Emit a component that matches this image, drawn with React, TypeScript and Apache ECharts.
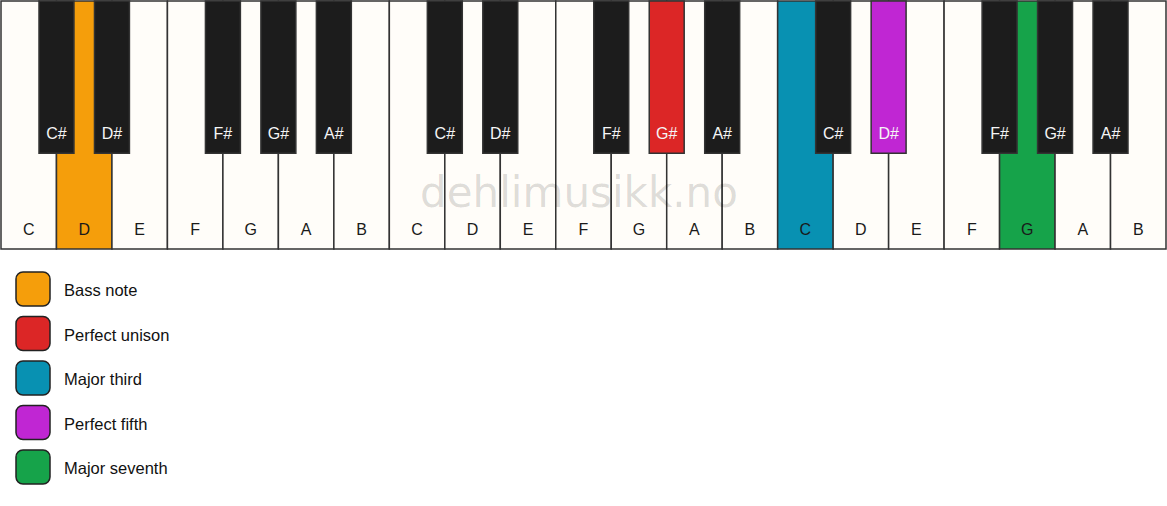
import React, { useEffect, useRef } from 'react'
import * as echarts from 'echarts'

// three octaves of white keys, left to right
const whiteKeys = [
  'C', 'D', 'E', 'F', 'G', 'A', 'B',
  'C', 'D', 'E', 'F', 'G', 'A', 'B',
  'C', 'D', 'E', 'F', 'G', 'A', 'B',
]
const blackKeys = [
  'C#', 'D#', 'F#', 'G#', 'A#',
  'C#', 'D#', 'F#', 'G#', 'A#',
  'C#', 'D#', 'F#', 'G#', 'A#',
]
// white-key boundary each black key sits on
const blackKeyPositions = [1, 2, 4, 5, 6, 8, 9, 11, 12, 13, 15, 16, 18, 19, 20]

const intervals = ['Bass note', 'Perfect unison', 'Major third', 'Perfect fifth', 'Major seventh']
const intervalColors = ['#f59e0b', '#dc2626', '#0891b2', '#c026d3', '#16a34a']

// [key index, interval index]
const highlightedWhite = [[1, 0], [14, 2], [18, 4]]
const highlightedBlack = [[8, 1], [11, 3]]

const BLACK_LENGTH = 0.614 // share of the white key length
const BLACK_WIDTH = 0.63   // share of a white key width
const FONT = '"Liberation Sans", Arial, sans-serif'

const App: React.FC = () => {
  const ref = useRef<HTMLDivElement>(null)

  useEffect(() => {
    if (!ref.current) return
    const chart = echarts.init(ref.current, undefined, { renderer: 'svg' })

    const whiteData = whiteKeys.map((_, i) => {
      const h = highlightedWhite.find(x => x[0] === i)
      return [i, h ? h[1] : -1]
    })
    const blackData = blackKeys.map((_, i) => {
      const h = highlightedBlack.find(x => x[0] === i)
      return [blackKeyPositions[i], h ? h[1] : -1, i]
    })

    chart.setOption({
      animation: false,
      backgroundColor: '#ffffff',
      grid: { left: 1, top: 1, width: 1165, height: 248 },
      xAxis: { type: 'value', min: 0, max: whiteKeys.length, show: false },
      yAxis: { type: 'value', min: 0, max: 1, inverse: true, show: false },
      graphic: [
        ...intervals.map((name, k) => ({
          type: 'group',
          x: 16,
          y: 272 + k * 44.5,
          children: [
            {
              type: 'rect',
              shape: { x: 0, y: 0, width: 34, height: 34, r: 7 },
              style: { fill: intervalColors[k], stroke: '#222', lineWidth: 1.5 },
            },
            {
              type: 'text',
              x: 48,
              y: 18,
              style: { text: name, fill: '#111', fontSize: 16.5, fontFamily: FONT, verticalAlign: 'middle' },
            },
          ],
        })),
        {
          type: 'text',
          x: 579,
          y: 192,
          z: 100,
          silent: true,
          style: {
            text: 'dehlimusikk.no',
            fill: 'rgba(0,0,0,0.14)',
            fontSize: 42,
            fontFamily: '"DejaVu Sans", sans-serif',
            align: 'center',
            verticalAlign: 'middle',
          },
        },
      ],
      series: [
        {
          type: 'custom',
          z: 2,
          data: whiteData,
          renderItem: (_: any, api: any) => {
            const i = api.value(0)
            const c = api.value(1)
            const [x0, y0] = api.coord([i, 0])
            const [x1, y1] = api.coord([i + 1, 1])
            return {
              type: 'group',
              children: [
                {
                  type: 'rect',
                  shape: { x: x0, y: y0, width: x1 - x0, height: y1 - y0 },
                  style: { fill: c >= 0 ? intervalColors[c] : '#fffdf9', stroke: '#333', lineWidth: 1.5 },
                },
                {
                  type: 'text',
                  style: {
                    text: whiteKeys[i], x: (x0 + x1) / 2, y: y1 - 20,
                    align: 'center', verticalAlign: 'middle',
                    fill: '#1a1a1a', fontSize: 16, fontFamily: FONT,
                  },
                },
              ],
            }
          },
        },
        {
          type: 'custom',
          z: 3,
          data: blackData,
          renderItem: (_: any, api: any) => {
            const pos = api.value(0)
            const c = api.value(1)
            const k = api.value(2)
            const [cx, y0] = api.coord([pos, 0])
            const [, y1] = api.coord([pos, BLACK_LENGTH])
            const w = api.size([BLACK_WIDTH, 0])[0]
            return {
              type: 'group',
              children: [
                {
                  type: 'rect',
                  shape: { x: cx - w / 2, y: y0, width: w, height: y1 - y0 },
                  style: { fill: c >= 0 ? intervalColors[c] : '#1c1c1c', stroke: '#333', lineWidth: 1.5 },
                },
                {
                  type: 'text',
                  style: {
                    text: blackKeys[k], x: cx, y: y1 - 20,
                    align: 'center', verticalAlign: 'middle',
                    fill: '#f5f5f5', fontSize: 16, fontFamily: FONT,
                  },
                },
              ],
            }
          },
        },
      ],
    })

    return () => chart.dispose()
  }, [])

  return (
    <div ref={ref} style={{ position: 'absolute', left: 0, top: 0, width: 1167, height: 506 }} />
  )
}

export default App
